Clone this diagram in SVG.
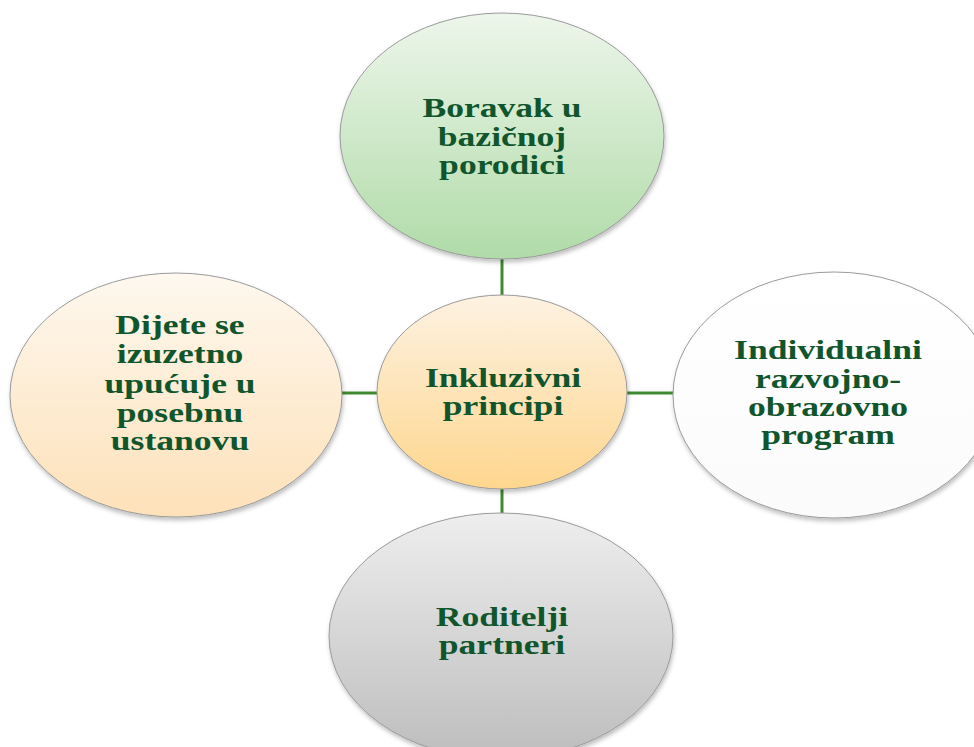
<svg xmlns="http://www.w3.org/2000/svg" width="974" height="747" viewBox="0 0 974 747">
<defs>
<linearGradient id="gGreen" x1="0" y1="0" x2="0" y2="1"><stop offset="0" stop-color="#edf6eb"/><stop offset="1" stop-color="#b0dba8"/></linearGradient>
<linearGradient id="gOrange" x1="0" y1="0" x2="0" y2="1"><stop offset="0" stop-color="#fdf2e2"/><stop offset="1" stop-color="#fed68e"/></linearGradient>
<linearGradient id="gPeach" x1="0" y1="0" x2="0" y2="1"><stop offset="0" stop-color="#fef8ef"/><stop offset="1" stop-color="#fde1b9"/></linearGradient>
<linearGradient id="gWhite" x1="0" y1="0" x2="0" y2="1"><stop offset="0" stop-color="#ffffff"/><stop offset="1" stop-color="#fbfbfb"/></linearGradient>
<linearGradient id="gGrey" x1="0" y1="0" x2="0" y2="1"><stop offset="0" stop-color="#eeeeee"/><stop offset="1" stop-color="#bdbdbd"/></linearGradient>
<filter id="sh" x="-10%" y="-10%" width="120%" height="125%"><feDropShadow dx="1" dy="3" stdDeviation="2" flood-color="#000" flood-opacity="0.25"/></filter>
</defs>
<style>
.node{stroke:#9a9a9a;stroke-width:1;filter:url(#sh)}
.conn{stroke:#3f8a30;stroke-width:3;fill:none}
.lbl{font-family:"Liberation Serif","Times New Roman",serif;font-weight:bold;font-size:28px;fill:#10552c;text-anchor:middle}
</style>
<g id="connectors">
<line class="conn" x1="502" y1="258" x2="502" y2="296"/>
<line class="conn" x1="502" y1="488" x2="502" y2="514"/>
<line class="conn" x1="340" y1="393" x2="378" y2="393"/>
<line class="conn" x1="626" y1="393" x2="674" y2="393"/>
</g>
<g id="top">
<ellipse class="node" cx="502" cy="136" rx="162" ry="123" fill="url(#gGreen)"/>
<text class="lbl" transform="translate(502,0) scale(1.27,1)"><tspan x="0" y="117">Boravak u</tspan><tspan x="0" y="146">bazičnoj</tspan><tspan x="0" y="174">porodici</tspan></text>
</g>
<g id="left">
<ellipse class="node" cx="176" cy="395" rx="166" ry="122" fill="url(#gPeach)"/>
<text class="lbl" transform="translate(180,0) scale(1.27,1)"><tspan x="0" y="334">Dijete se</tspan><tspan x="0" y="363">izuzetno</tspan><tspan x="0" y="393">upućuje u</tspan><tspan x="0" y="422">posebnu</tspan><tspan x="0" y="450">ustanovu</tspan></text>
</g>
<g id="right">
<ellipse class="node" cx="834" cy="395" rx="161" ry="123" fill="url(#gWhite)"/>
<text class="lbl" transform="translate(828,0) scale(1.27,1)"><tspan x="0" y="359">Individualni</tspan><tspan x="0" y="388">razvojno-</tspan><tspan x="0" y="416">obrazovno</tspan><tspan x="0" y="444">program</tspan></text>
</g>
<g id="center">
<ellipse class="node" cx="502" cy="392" rx="125" ry="97" fill="url(#gOrange)"/>
<text class="lbl" transform="translate(503,0) scale(1.27,1)"><tspan x="0" y="387">Inkluzivni</tspan><tspan x="0" y="415">principi</tspan></text>
</g>
<g id="bottom">
<ellipse class="node" cx="501" cy="636" rx="172" ry="123" fill="url(#gGrey)"/>
<text class="lbl" transform="translate(502,0) scale(1.27,1)"><tspan x="0" y="626">Roditelji</tspan><tspan x="0" y="654">partneri</tspan></text>
</g>
</svg>
